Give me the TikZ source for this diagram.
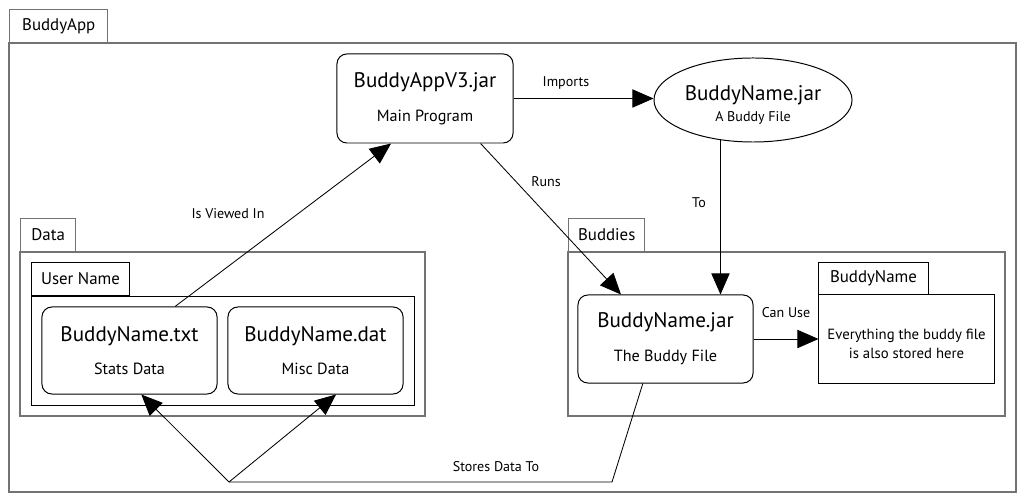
\documentclass[tikz,border=0pt]{standalone}
\usepackage{fontspec}
\setmainfont{PT Sans}
\usetikzlibrary{arrows.meta,shapes.geometric}

\newcommand{\subsize}{\fontsize{11.5}{14}\selectfont}

\tikzset{
  pkgline/.style={draw=black!55, line width=1pt},
  tab/.style={draw=black!55, line width=1pt, inner sep=0pt, anchor=south west,
    minimum height=0.825cm, font=\fontsize{12}{14}\selectfont},
  filebox/.style={draw, rounded corners=7pt, line width=0.7pt, align=center,
    inner sep=0pt, font=\fontsize{15}{18}\selectfont},
  conn/.style={line width=0.6pt},
  arr/.style={conn, -{Triangle[length=15pt,width=13pt]}},
  lbl/.style={font=\fontsize{10}{12}\selectfont, inner sep=1pt},
}

\begin{document}
\begin{tikzpicture}[x=0.025cm,y=-0.025cm]
  \useasboundingbox (0,0) rectangle (1024,503);

  % packages
  \draw[pkgline] (9,43) rectangle (1016,492);
  \node[tab, minimum width=2.45cm] (appTab) at (9,43) {BuddyApp};
  \draw[pkgline] (20,252) rectangle (425,416);
  \node[tab, minimum width=1.375cm] (dataTab) at (20,252) {Data};
  \draw[line width=0.7pt] (31,296) rectangle (414,405);
  \node[tab, draw=black, line width=0.7pt, minimum width=2.45cm] (userTab) at (31,296) {User Name};
  \draw[pkgline] (568,252) rectangle (1005,416);
  \node[tab, minimum width=1.9cm] (buddiesTab) at (568,252) {Buddies};

  % files
  \node[filebox, minimum width=4.4cm, minimum height=2.225cm] (main) at (425,98.5)
    {BuddyAppV3.jar\\[6pt]{\subsize Main Program}};
  \node[ellipse, draw, line width=0.7pt, minimum width=4.95cm, minimum height=2.1cm,
    inner sep=0pt] (imp) at (753,100) {};
  \node[align=center, inner sep=0pt, font=\fontsize{15}{18}\selectfont] (impText) at (753,104.5)
    {BuddyName.jar\\[-3pt]{\fontsize{10}{12}\selectfont A Buddy File}};
  \node[filebox, minimum width=4.375cm, minimum height=2.2cm] (jar) at (665.5,339)
    {BuddyName.jar\\[6pt]{\subsize The Buddy File}};
  \node[filebox, minimum width=4.375cm, minimum height=2.175cm] (txt) at (129.5,350.5)
    {BuddyName.txt\\[6pt]{\subsize Stats Data}};
  \node[filebox, minimum width=4.375cm, minimum height=2.175cm] (dat) at (315.5,350.5)
    {BuddyName.dat\\[6pt]{\subsize Misc Data}};
  \node[draw, line width=0.7pt, minimum width=4.375cm, minimum height=2.2cm] (store) at (906.5,339) {};
  \node[align=center, inner sep=0pt, font=\fontsize{10.5}{13}\selectfont] (storeText) at (906.5,344)
    {Everything the buddy file\\is also stored here};
  \node[tab, draw=black, line width=0.7pt, minimum width=2.725cm, minimum height=0.8cm]
    (nameTab) at (store.north west) {BuddyName};

  % connectors
  \coordinate (bend) at (612,482);
  \coordinate (fork) at (229,482);
  \draw[arr] (main.east) -- (main.east -| imp.west);
  \draw[arr] (imp.-129) -- (imp.-129 |- jar.north);
  \draw[arr] (main.-39) -- (jar.135);
  \draw[arr] (txt.44) -- (main.-127);
  \draw[arr] (jar.east) -- (store.west);
  \draw[conn] (jar.-117) -- (bend) -- (fork);
  \draw[arr] (fork) -- (txt.-75);
  \draw[arr] (fork) -- (dat.-65);

  % labels
  \node[lbl] (importsLbl) at (566,83) {Imports};
  \node[lbl] (toLbl) at (699,203) {To};
  \node[lbl] (runsLbl) at (546,182) {Runs};
  \node[lbl] (viewLbl) at (228,214) {Is Viewed In};
  \node[lbl] (useLbl) at (786,313) {Can Use};
  \node[lbl] (storeLbl) at (496,467) {Stores Data To};
\end{tikzpicture}
\end{document}
